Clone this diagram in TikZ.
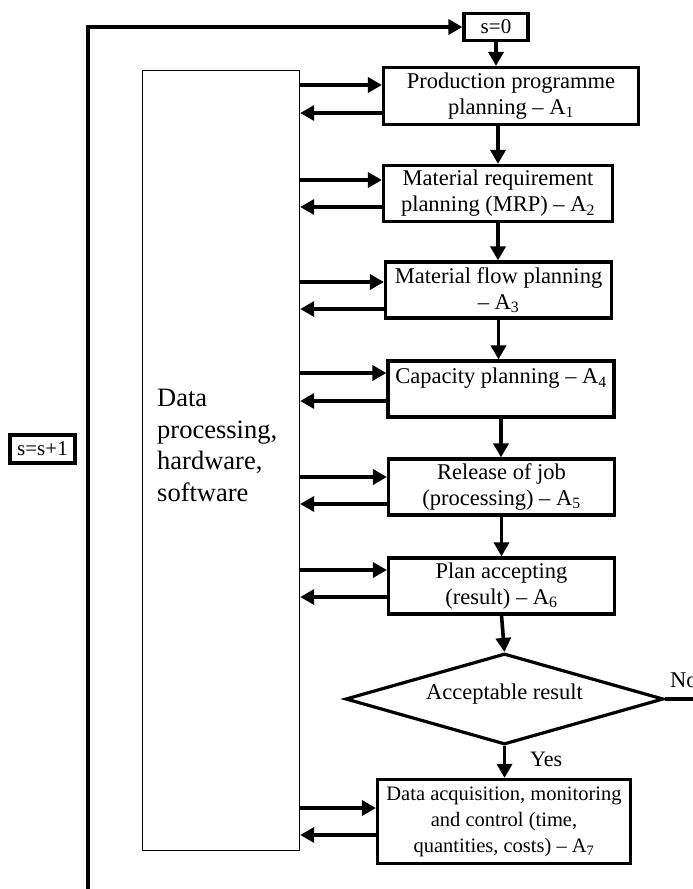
\documentclass[tikz,border=0pt]{standalone}
\usepackage{fontspec}
\setmainfont{Liberation Serif}
\usetikzlibrary{arrows.meta,shapes.geometric,calc}
\newcommand\boxfont{\fontsize{22.5}{26}\selectfont}
\newcommand\smallboxfont{\fontsize{20.5}{26}\selectfont}
\newcommand\dpfont{\fontsize{26.5}{31.7}\selectfont}
\newcommand\sfontx{\fontsize{21}{24}\selectfont}
\begin{document}
\begin{tikzpicture}[x=1pt,y=-1pt,
  box/.style={draw,line width=3.2pt,align=center,inner sep=2pt,font=\boxfont},
  stepbox/.style={box,minimum width=226pt,minimum height=56pt},
  arr/.style={line width=3.6pt,-{Triangle[length=14pt,width=15pt]}},
  plain/.style={line width=3.6pt}
]
\useasboundingbox (0,0) rectangle (693,889);
% big side block
\node[draw,line width=1.4pt,minimum width=157pt,minimum height=780pt,inner sep=0pt] (dp) at (221,460.5) {};
\node[anchor=north west,inner sep=0pt,align=left,font=\dpfont] (dpt) at (157,389) {Data\\processing,\\hardware,\\software};
% counters
\node[box,font=\sfontx,minimum width=64pt,minimum height=27pt,inner sep=1pt] (s0) at (496,27) {s=0};
\node[box,font=\sfontx,minimum width=65pt,minimum height=28pt,inner sep=1pt] (ss) at (42.5,449) {s=s+1};
% process boxes
\node[box,minimum width=255pt,minimum height=57pt] (A1) at (511,96) {Production programme\\planning – A\textsubscript{1}};
\node[stepbox,minimum width=229pt] (A2) at (498,193.5) {Material requirement\\planning (MRP) – A\textsubscript{2}};
\node[stepbox] (A3) at (498.5,290) {Material flow planning\\– A\textsubscript{3}};
\node[stepbox] (A4) at (501,389) {Capacity planning – A\textsubscript{4}\\\mbox{}};
\node[stepbox] (A5) at (501.5,487) {Release of job\\(processing) – A\textsubscript{5}};
\node[stepbox] (A6) at (501.5,586) {Plan accepting\\(result) – A\textsubscript{6}};
\node[draw,diamond,aspect=3.5,line width=3.2pt,minimum width=318pt,minimum height=91pt,inner sep=0pt,text height=15pt,text depth=15pt,font=\boxfont] (dia) at (504.5,699) {Acceptable result};
\node[box,font=\smallboxfont,minimum width=253pt,minimum height=84pt] (A7) at (504,821.5) {Data acquisition, monitoring\\and control (time,\\quantities, costs) – A\textsubscript{7}};
% labels
\node[anchor=base west,inner sep=0pt,font=\boxfont] (no) at (670,687) {No};
\node[anchor=base west,inner sep=0pt,font=\fontsize{22}{26}\selectfont] (yes) at (530,766) {Yes};
% main flow
\draw[arr] (s0.south) -- (s0.south |- A1.north);
\draw[arr] (A1.south -| A2.north) -- (A2.north);
\draw[arr] (A2.south) -- (A2.south |- A3.north);
\draw[arr] (A3.south) -- (A3.south |- A4.north);
\draw[arr] (A4.south) -- (A4.south |- A5.north);
\draw[arr] (A5.south) -- (A5.south |- A6.north);
\draw[arr] (A6.south) -- (dia.north);
\draw[arr] (dia.south) -- (dia.south |- A7.north);
\coordinate (noend) at (700,699);
\draw[plain] (dia.east) -- (noend);
% feedback loop
\coordinate (fb) at (88,895);
\draw[arr] (fb) |- (s0.west);
% data exchange arrows
\foreach \n/\u/\l in {A1/85/113, A2/180/207, A3/282/309, A4/373/401, A5/477/504, A6/570/597, A7/808/835}{
  \draw[arr] (dp.east |- 0,\u) -- (\n.west |- 0,\u);
  \draw[arr] (\n.west |- 0,\l) -- (dp.east |- 0,\l);
}
\end{tikzpicture}
\end{document}
